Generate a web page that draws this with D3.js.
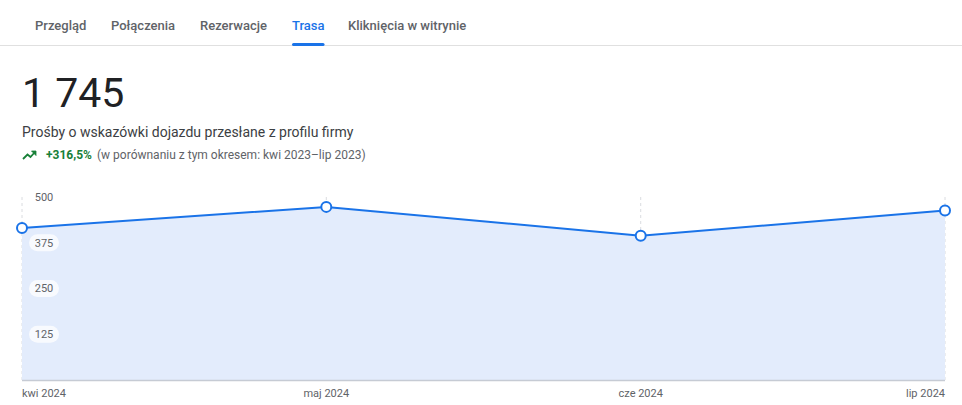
<!DOCTYPE html>
<html>
<head>
<meta charset="utf-8">
<script src="https://cdn.jsdelivr.net/npm/d3@7"></script>
<style>
  html, body { margin: 0; padding: 0; background: #fff; }
  body { width: 962px; height: 405px; overflow: hidden; font-family: Roboto, "Noto Sans", sans-serif; }
</style>
</head>
<body>
<svg id="chart" width="962" height="405"></svg>
<script>
// dane
var tabs = ["Przegląd", "Połączenia", "Rezerwacje", "Trasa", "Kliknięcia w witrynie"];
var tabX = [35, 111, 200, 292, 348];
var activeTab = "Trasa";
var months = ["2024-04-01", "2024-05-01", "2024-06-01", "2024-07-01"];
var monthLabels = ["kwi 2024", "maj 2024", "cze 2024", "lip 2024"];
var values = [415, 473, 394, 463];
var yTicks = [125, 250, 375, 500];

var total = "1 745";
var subtitle = "Prośby o wskazówki dojazdu przesłane z profilu firmy";
var change = "+316,5%";
var compare = "(w porównaniu z tym okresem: kwi 2023–lip 2023)";

var svg = d3.select("#chart");
var blue = "#1a73e8";

// zakładki
svg.append("line")
  .attr("x1", 0).attr("x2", 962).attr("y1", 45.5).attr("y2", 45.5)
  .attr("stroke", "#e0e0e0").attr("stroke-width", 1);

tabs.forEach(function(t, i) {
  var txt = svg.append("text")
    .attr("x", tabX[i]).attr("y", 30)
    .attr("font-size", 13).attr("font-weight", 500)
    .attr("fill", t == activeTab ? blue : "#5f6368")
    .text(t);
  if (t == activeTab) {
    var w = txt.node().getComputedTextLength();
    svg.append("rect")
      .attr("x", tabX[i]).attr("y", 43).attr("width", w).attr("height", 3)
      .attr("rx", 1.5).attr("fill", blue);
  }
});

// nagłówek
svg.append("text").attr("x", 22).attr("y", 107)
  .attr("font-size", 41).attr("fill", "#202124").text(total);
svg.append("text").attr("x", 22).attr("y", 137)
  .attr("font-size", 14).attr("fill", "#3c4043").text(subtitle);

// ikonka trendu
var ic = svg.append("g").attr("transform", "translate(23,150)");
ic.append("path").attr("d", "M0,9 L4.5,4.5 L7.5,7 L12,2")
  .attr("fill", "none").attr("stroke", "#188038").attr("stroke-width", 1.8);
ic.append("path").attr("d", "M8.5,1 L13,1 L13,5.5 Z").attr("fill", "#188038")
  .attr("stroke", "#188038").attr("stroke-width", 0.8);

svg.append("text").attr("x", 46).attr("y", 159)
  .attr("font-size", 12).attr("font-weight", 700).attr("fill", "#188038").text(change);
svg.append("text").attr("x", 97).attr("y", 159)
  .attr("font-size", 12).attr("fill", "#5f6368").text(compare);

// wykres
var dates = months.map(function(d) { return new Date(d + "T00:00:00Z"); });
var data = dates.map(function(d, i) { return { date: d, value: values[i], label: monthLabels[i] }; });

var x = d3.scaleUtc().domain(d3.extent(dates)).range([22, 945]);
var y = d3.scaleLinear().domain([0, 500]).range([380, 197]);

// pionowe linie siatki
svg.append("g").selectAll("line").data(data).enter().append("line")
  .attr("x1", function(d) { return x(d.date); })
  .attr("x2", function(d) { return x(d.date); })
  .attr("y1", y(500)).attr("y2", y(0))
  .attr("stroke", "#dadce0").attr("stroke-width", 1)
  .attr("stroke-dasharray", "3,3");

var area = d3.area()
  .x(function(d) { return x(d.date); })
  .y0(y(0))
  .y1(function(d) { return y(d.value); });

svg.append("path").datum(data)
  .attr("d", area).attr("fill", "#e3ecfc");

svg.append("line")
  .attr("x1", x(dates[0])).attr("x2", x(dates[dates.length - 1]))
  .attr("y1", y(0) + 0.5).attr("y2", y(0) + 0.5)
  .attr("stroke", "#c6cbd4").attr("stroke-width", 1.5);

// etykiety osi Y
var yLab = svg.append("g").selectAll("g").data(yTicks).enter().append("g")
  .attr("transform", function(d) { return "translate(44," + y(d) + ")"; });
yLab.filter(function(d) { return d < 500; }).append("rect")
  .attr("x", -15).attr("y", -8.5).attr("width", 30).attr("height", 17)
  .attr("rx", 8.5).attr("fill", "#fff").attr("fill-opacity", 0.75);
yLab.append("text")
  .attr("text-anchor", "middle").attr("dy", "0.35em")
  .attr("font-size", 11).attr("fill", "#5f6368")
  .text(function(d) { return d; });

var line = d3.line()
  .x(function(d) { return x(d.date); })
  .y(function(d) { return y(d.value); });

svg.append("path").datum(data)
  .attr("d", line).attr("fill", "none")
  .attr("stroke", blue).attr("stroke-width", 2);

svg.append("g").selectAll("circle").data(data).enter().append("circle")
  .attr("cx", function(d) { return x(d.date); })
  .attr("cy", function(d) { return y(d.value); })
  .attr("r", 5).attr("fill", "#fff")
  .attr("stroke", blue).attr("stroke-width", 2);

// etykiety osi X
svg.append("g").selectAll("text").data(data).enter().append("text")
  .attr("x", function(d) { return x(d.date); })
  .attr("y", 397)
  .attr("text-anchor", function(d, i) { return i == 0 ? "start" : (i == data.length - 1 ? "end" : "middle"); })
  .attr("font-size", 11).attr("fill", "#5f6368")
  .text(function(d) { return d.label; });
</script>
</body>
</html>
